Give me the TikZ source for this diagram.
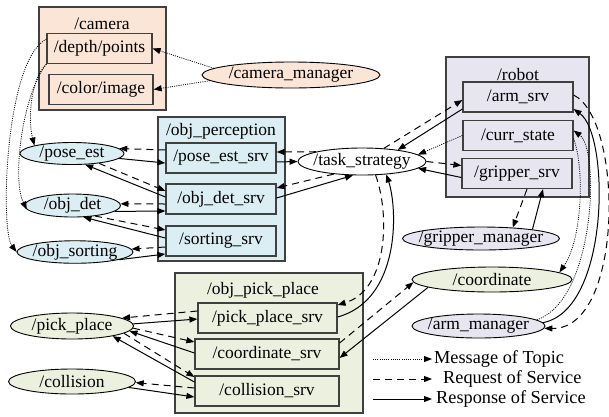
\documentclass[tikz,border=0pt]{standalone}
\usepackage{fontspec}
\setmainfont{Liberation Serif}
\usepackage{tikz}
\usetikzlibrary{arrows.meta,shapes.geometric}

\definecolor{campeach}{HTML}{FBE5D6}
\definecolor{percblue}{HTML}{DAEEF3}
\definecolor{robotgray}{HTML}{E7E5EF}
\definecolor{pickgreen}{HTML}{EBF1DE}
\definecolor{boxline}{HTML}{404040}

\newcommand{\ellt}[1]{\makebox[0pt]{#1}}

\tikzset{
  grp/.style={draw=boxline, line width=1.2pt},
  srvbox/.style={rectangle, draw=boxline, line width=1.2pt, minimum height=30pt, inner sep=0pt},
  rosell/.style={ellipse, draw=black, line width=0.9pt, inner sep=0pt, minimum height=24pt},
  topic/.style={-{Triangle[length=8pt,width=6pt]}, line width=0.8pt, dash pattern=on 1pt off 1.2pt},
  req/.style={-{Triangle[length=8pt,width=6pt]}, line width=1pt, dash pattern=on 7pt off 5pt},
  resp/.style={-{Triangle[length=8pt,width=6pt]}, line width=1pt}
}

\begin{document}
\begin{tikzpicture}[x=1pt, y=-1pt, font=\fontsize{17.5}{21}\selectfont]
\useasboundingbox (0,0) rectangle (609,416);
% groups
\draw [grp, fill=campeach] (39,7) rectangle (166,110); \node (camlbl) at (102,24) {/camera};
\draw [grp, fill=percblue] (158,117) rectangle (285,261); \node (perclbl) at (221,131) {/obj\_perception};
\draw [grp, fill=robotgray] (446,57) rectangle (589,197); \node (roblbl) at (518,75) {/robot};
\draw [grp, fill=pickgreen] (175,273) rectangle (363,413); \node (picklbl) at (263,290) {/obj\_pick\_place};
% services and topics
\node [srvbox, fill=campeach, minimum width=105pt] (dpts) at (99.5,48.5) {/depth/points};
\node [srvbox, fill=campeach, minimum width=104pt] (cimg) at (101,89.5) {/color/image};
\node [srvbox, fill=percblue, minimum width=110pt] (pesrv) at (221,158) {/pose\_est\_srv};
\node [srvbox, fill=percblue, minimum width=110pt] (odsrv) at (221,199) {/obj\_det\_srv};
\node [srvbox, fill=percblue, minimum width=110pt] (sosrv) at (221,241) {/sorting\_srv};
\node [srvbox, fill=robotgray, minimum width=110pt] (armsrv) at (518,97) {/arm\_srv};
\node [srvbox, fill=robotgray, minimum width=110pt] (currst) at (518,135.5) {/curr\_state};
\node [srvbox, fill=robotgray, minimum width=110pt] (gripsrv) at (517,173.5) {/gripper\_srv};
\node [srvbox, fill=pickgreen, minimum width=139pt] (ppsrv) at (267.5,318) {/pick\_place\_srv};
\node [srvbox, fill=pickgreen, minimum width=144pt] (cosrv) at (267,354) {/coordinate\_srv};
\node [srvbox, fill=pickgreen, minimum width=144pt] (clsrv) at (267,391) {/collision\_srv};
% ros nodes
\node [rosell, fill=campeach, minimum width=178pt, minimum height=26pt] (cammgr) at (291,75) {\ellt{/camera\_manager}};
\node [rosell, fill=percblue, minimum width=104pt, minimum height=22pt] (poseest) at (72,153.5) {\ellt{/pose\_est}};
\node [rosell, fill=percblue, minimum width=96pt, minimum height=23pt] (objdet) at (72.5,205.5) {\ellt{/obj\_det}};
\node [rosell, fill=percblue, minimum width=116pt, minimum height=22pt] (objsort) at (75,252) {\ellt{/obj\_sorting}};
\node [rosell, fill=white, minimum width=128pt, minimum height=27pt] (task) at (362,161.5) {\ellt{/task\_strategy}};
\node [rosell, fill=robotgray, minimum width=157pt, minimum height=23pt] (gripmgr) at (481,238.5) {\ellt{/gripper\_manager}};
\node [rosell, fill=pickgreen, minimum width=160pt, minimum height=25pt] (coord) at (492,279.5) {\ellt{/coordinate}};
\node [rosell, fill=robotgray, minimum width=133pt, minimum height=24pt] (armmgr) at (478.5,326) {\ellt{/arm\_manager}};
\node [rosell, fill=pickgreen, minimum width=123pt, minimum height=26pt] (pickpl) at (72,326) {\ellt{/pick\_place}};
\node [rosell, fill=pickgreen, minimum width=127pt, minimum height=25pt] (collis) at (72,381.5) {\ellt{/collision}};
% topics
\draw [topic] (cammgr.175) -- (dpts.east);
\draw [topic] (cammgr.184) -- (cimg.east);
\draw [topic] (dpts.south west) .. controls (30,80) and (28,120) .. (poseest.168);
\draw [topic] (dpts.south west) .. controls (22,95) and (12,180) .. (objdet.185);
\draw [topic] (dpts.170) .. controls (5,60) and (0,230) .. (objsort.west);
\draw [topic] (currst.west) -- (task.7);
\draw [topic] (armmgr.6) .. controls (595,300) and (600,150) .. ([yshift=5pt]currst.east);
\draw [topic] ([yshift=-3pt]currst.east) .. controls (585,170) and (582,240) .. (coord.6);
% perception requests and responses
\draw [req] ([yshift=8pt]pesrv.west) -- (poseest.6);
\draw [resp] (poseest.-6) -- ([yshift=-5pt]pesrv.west);
\draw [req] (poseest.-20) -- ([yshift=8pt]odsrv.west);
\draw [resp] ([yshift=2pt]odsrv.west) -- (poseest.-40);
\draw [req] ([yshift=-5pt]odsrv.west) -- (objdet.2);
\draw [resp] (objdet.-8) -- ([yshift=-12pt]odsrv.west);
\draw [req] (objdet.-25) -- ([yshift=11pt]sosrv.west);
\draw [resp] ([yshift=3pt]sosrv.west) -- (objdet.-47);
\draw [req] ([yshift=-6pt]sosrv.west) -- (objsort.3);
\draw [resp] (objsort.-10) -- ([yshift=-13pt]sosrv.west);
% task strategy
\draw [req] (task.168) -- ([yshift=6pt]pesrv.east);
\draw [resp] ([yshift=-4pt]pesrv.east) -- (task.west);
\draw [req] (task.204) -- ([yshift=11pt]odsrv.east);
\draw [resp] ([yshift=1pt]odsrv.east) -- (task.237);
\draw [req] (task.31) -- ([yshift=-3pt]armsrv.west);
\draw [resp] ([yshift=-12pt]armsrv.west) -- (task.18);
\draw [req] (task.east) -- ([yshift=8pt]gripsrv.west);
\draw [resp] ([yshift=-4pt]gripsrv.west) -- (task.-7);
\draw [req] (task.-45) .. controls (390,215) and (388,290) .. ([yshift=13pt]ppsrv.east);
\draw [resp] ([yshift=1pt]ppsrv.east) .. controls (400,300) and (398,210) .. (task.-28);
% robot side
\draw [req] ([xshift=10pt]gripsrv.south) -- (gripmgr.19);
\draw [resp] (gripmgr.10) -- ([xshift=26pt]gripsrv.south);
\draw [req] ([yshift=11pt]cosrv.east) -- (coord.182);
\draw [resp] (coord.187) -- ([yshift=-4pt]cosrv.east);
\draw [req] ([yshift=2pt]armsrv.east) .. controls (624,120) and (624,330) .. (armmgr.-2);
\draw [resp] (armmgr.3) .. controls (610,310) and (610,135) .. ([yshift=-12pt]armsrv.east);
% pick and place
\draw [req] ([yshift=7pt]ppsrv.west) -- (pickpl.9);
\draw [resp] (pickpl.2) -- ([yshift=-1pt]ppsrv.west);
\draw [req] (pickpl.-2) -- ([yshift=12pt]cosrv.west);
\draw [resp] ([yshift=1pt]cosrv.west) -- (pickpl.-5);
\draw [req] (pickpl.-8) -- ([yshift=14pt]clsrv.west);
\draw [resp] ([yshift=9pt]clsrv.west) -- (pickpl.-14);
\draw [req] ([yshift=3pt]clsrv.west) -- (collis.-1);
\draw [resp] (collis.-6) -- ([yshift=-6pt]clsrv.west);
% legend
\coordinate (lgtopa) at (373,359); \coordinate (lgtopb) at (432,359);
\coordinate (lgreqa) at (373,379); \coordinate (lgreqb) at (432,379);
\coordinate (lgresa) at (373,399); \coordinate (lgresb) at (432,399);
\draw [topic] (lgtopa) -- (lgtopb); \node [anchor=west, inner sep=0pt, font=\fontsize{18.3}{22}\selectfont] (lgtop) at (434,359) {Message of Topic};
\draw [req] (lgreqa) -- (lgreqb); \node [anchor=west, inner sep=0pt, font=\fontsize{18.3}{22}\selectfont] (lgreq) at (443,379) {Request of Service};
\draw [resp] (lgresa) -- (lgresb); \node [anchor=west, inner sep=0pt, font=\fontsize{18.3}{22}\selectfont] (lgres) at (436,399) {Response of Service};
\end{tikzpicture}
\end{document}
